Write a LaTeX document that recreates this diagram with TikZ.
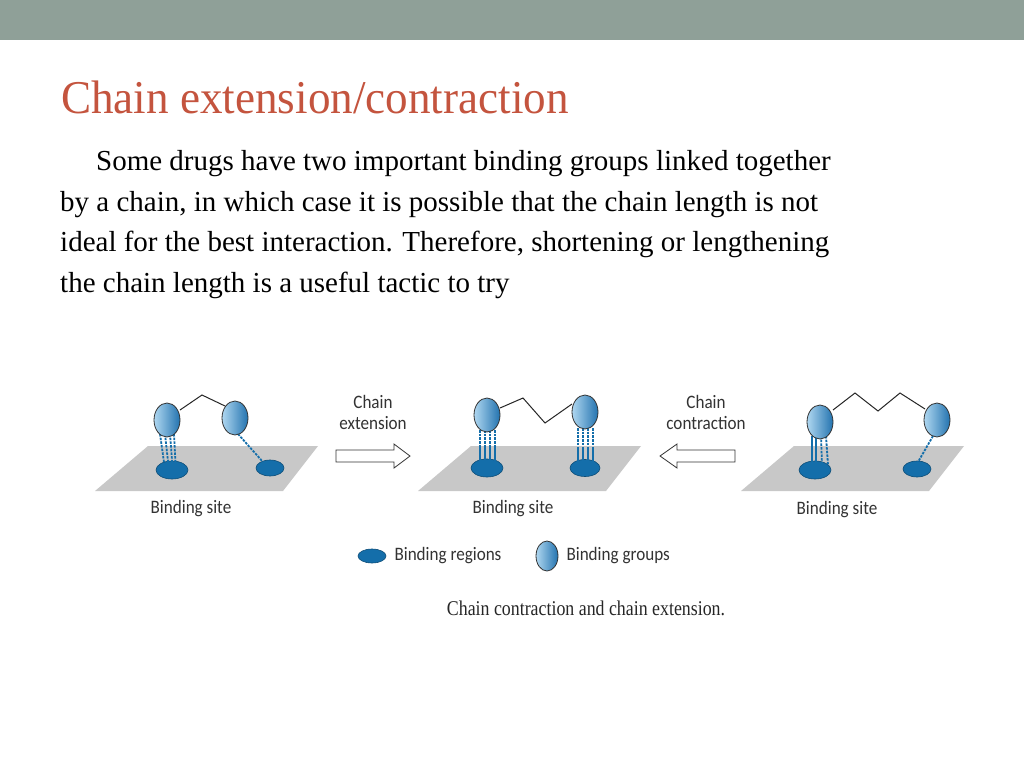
\documentclass[tikz,border=0pt]{standalone}
\usepackage{fontspec}
\usetikzlibrary{shapes.geometric}
\setmainfont{Liberation Serif}
\newfontfamily\lab{Carlito}
\begin{document}
\begin{tikzpicture}[x=1pt,y=-1pt]
\definecolor{barc}{RGB}{143,160,152}
\definecolor{titc}{RGB}{196,84,62}
\definecolor{plane}{RGB}{200,200,200}
\definecolor{reg}{RGB}{20,110,170}
\definecolor{ballL}{RGB}{175,215,240}
\definecolor{ballR}{RGB}{35,115,175}
\tikzset{
 ball/.style={ellipse,minimum width=26,minimum height=34,inner sep=0,draw=black!80,line width=0.8pt,left color=ballL,right color=ballR},
 region/.style={fill=reg,draw=reg!70!black,line width=0.6pt},
 chain/.style={draw=black!85,line width=1pt},
 hb/.style={draw=reg,line width=1.8pt,dash pattern=on 2.5pt off 1.2pt},
 hbs/.style={draw=reg,line width=1.8pt},
 lbl/.style={font=\lab\fontsize{19}{21}\selectfont\addfontfeature{FakeStretch=0.9},text=black!80,align=center},
 blockarrow/.style={draw=black!80,fill=white,line width=0.8pt},
}
\useasboundingbox (0,0) rectangle (1024,768);
\fill[white] (0,0) rectangle (1024,768);
\fill[barc] (0,0) rectangle (1024,40);
\node[anchor=west,text=titc,font=\fontsize{47}{50}\selectfont\addfontfeature{FakeStretch=0.96},inner sep=0] (title) at (61,97) {Chain extension/contraction};
\node[anchor=north west,align=left,font=\fontsize{29}{40.7}\selectfont,inner sep=0] (body) at (60,150)
{\hspace*{36pt}Some drugs have two important binding groups linked together\\ by a chain, in which case it is possible that the chain length is not\\ ideal for the best interaction. Therefore, shortening or lengthening\\ the chain length is a useful tactic to try};
% planes
\foreach \o in {0,323,646}{
 \fill[plane] (95+\o,491) -- (148+\o,446) -- (318+\o,446) -- (283+\o,491) -- cycle;
}
% panel 1
\draw[region] (172,470) ellipse (16 and 9);
\draw[region] (270,468) ellipse (14 and 8);
\foreach \dx in {-7,-2,3,7}{\draw[hb] (167+\dx,434) -- (170+\dx*0.8,465);}
\draw[hb] (238,434) -- (263,462);
\draw[chain] (180,410) -- (202,395) -- (225,406);
\node[ball] (b11) at (167,420) {};
\node[ball] (b12) at (235,418) {};
\node[lbl] (s1) at (191,509) {Binding site};
% panel 2
\draw[region] (487,468) ellipse (16 and 9);
\draw[region] (585,468) ellipse (15 and 8.5);
\foreach \dx in {-7,-2,3,8}{\draw[hb] (487+\dx,430) -- (487+\dx,447); \draw[hbs] (487+\dx,447) -- (487+\dx,464);}
\foreach \dx in {-7,-2,3,8}{\draw[hb] (585+\dx,428) -- (585+\dx,447); \draw[hbs] (585+\dx,447) -- (585+\dx,464);}
\draw[chain] (500,408) -- (523,398) -- (545,423) -- (572,404);
\node[ball] (b21) at (487,415) {};
\node[ball] (b22) at (585,412) {};
\node[lbl] (s2) at (513,509) {Binding site};
% panel 3
\draw[region] (815,470) ellipse (16 and 9);
\draw[region] (917,469) ellipse (14 and 8);
\draw[hbs] (812,436) -- (812,465); \draw[hbs] (816,436) -- (816,465);
\draw[hb] (821,436) -- (822,465); \draw[hb] (826,436) -- (828,465);
\draw[hb] (933,436) -- (918,462);
\draw[chain] (833,410) -- (855,393) -- (878,411) -- (900,393) -- (925,409);
\node[ball] (b31) at (820,422) {};
\node[ball] (b32) at (937,420) {};
\node[lbl] (s3) at (837,510) {Binding site};
% arrows
\draw[blockarrow] (336,450) -- (394,450) -- (394,444) -- (410,456) -- (394,468) -- (394,462) -- (336,462) -- cycle;
\draw[blockarrow] (735,450) -- (677,450) -- (677,444) -- (660,456) -- (677,468) -- (677,462) -- (735,462) -- cycle;
\node[lbl] (ext) at (373,412) {Chain\\extension};
\node[lbl] (con) at (706,412) {Chain\\contraction};
% legend
\draw[region] (372,556) ellipse (14 and 7);
\node[lbl,anchor=west] (lr) at (391,556) {Binding regions};
\node[ball,minimum width=22,minimum height=30] (lb) at (547,556) {};
\node[lbl,anchor=west] (lg) at (563,556) {Binding groups};
\node[font=\fontsize{21}{23}\selectfont\addfontfeature{FakeStretch=0.85},text=black!85] (cap) at (586,608) {Chain contraction and chain extension.};
\end{tikzpicture}
\end{document}
